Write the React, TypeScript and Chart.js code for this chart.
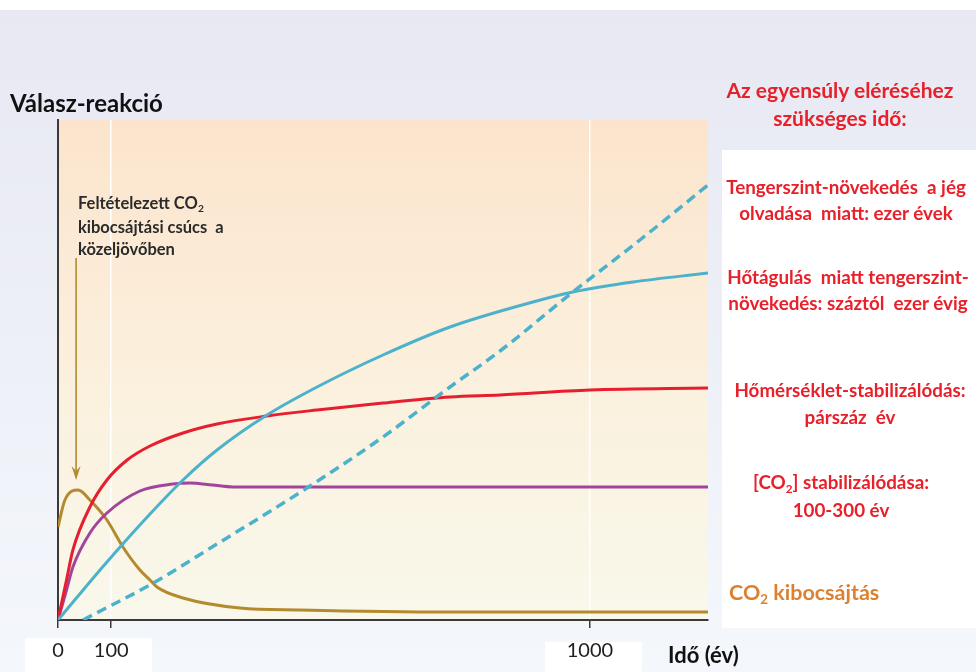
import React, { useEffect, useRef } from "react";
import { Chart, registerables } from "chart.js";

Chart.register(...registerables);

// ---- axis ----
const tickYears = [0, 100, 1000];
const xMaxYear = 1222;
const yMaxValue = 100;

// ---- series (x: years, y: response, arbitrary units 0-100) ----
const iceYears = [47, 179, 299, 468, 611, 737, 831, 968, 1094, 1222];
const iceValues = [0, 7.4, 15.2, 26.4, 36.6, 46.6, 53.8, 65.6, 76, 87];

const thermalYears = [0, 92, 173, 235, 299, 393, 487, 611, 737, 893, 968, 1081, 1222];
const thermalValues = [0, 11.6, 21.2, 28, 34, 41, 46.6, 53, 58.6, 63.6, 65.6, 67.6, 69.4];

const temperatureYears = [0, 16, 28, 60, 92, 130, 173, 235, 299, 393, 487, 611, 737, 831, 1000, 1222];
const temperatureValues = [0, 8, 14, 22.6, 28, 32, 34.8, 37.4, 39.2, 40.8, 42, 43.4, 44.6, 45, 46, 46.4];

const co2ConcYears = [0, 16, 28, 60, 92, 154, 216, 248, 290, 329, 1222];
const co2ConcValues = [0, 6, 10.6, 17.4, 21.4, 25.8, 27.2, 27.4, 27, 26.6, 26.6];

const emissionYears = [0, 13, 38, 60, 92, 122, 154, 173, 186, 235, 342, 455, 737, 1222];
const emissionValues = [18.6, 24, 26, 24, 20, 14.6, 10, 8, 6.6, 4.4, 2.4, 2, 1.6, 1.6];

// annotation arrow (peak of emissions)
const arrowYear = 34;
const arrowTopValue = 72.4;
const arrowTipValue = 28;

const TEAL = "#4cb2cb";
const RED = "#e61e2d";
const PURPLE = "#a2449b";
const GOLD = "#b38a2e";

const zip = (xs: number[], ys: number[]) => xs.map((x, i) => ({ x, y: ys[i] }));

const FONT = "Lato, 'Open Sans', 'DejaVu Sans', sans-serif";

const bgPlugin = {
  id: "bgPlugin",
  beforeDraw(chart: any) {
    const { ctx, chartArea: a, width, height } = chart;
    ctx.save();
    let g = ctx.createLinearGradient(0, 0, 0, height);
    g.addColorStop(0, "#e7e8f2");
    g.addColorStop(1, "#f4f7fc");
    ctx.fillStyle = g;
    ctx.fillRect(0, 0, width, height);
    ctx.fillStyle = "#ffffff";
    ctx.fillRect(0, 0, width, 10);
    ctx.fillRect(722, 150, width - 722, 478);
    ctx.fillRect(25, 638, 127, height - 638);
    ctx.fillRect(545, 642, 97, height - 642);
    g = ctx.createLinearGradient(0, a.top, 0, a.bottom);
    g.addColorStop(0, "#fce4cc");
    g.addColorStop(0.5, "#fbf0dd");
    g.addColorStop(1, "#f9f8eb");
    ctx.fillStyle = g;
    ctx.fillRect(a.left, a.top, a.right - a.left, a.bottom - a.top);
    ctx.restore();
  },
};

const arrowPlugin = {
  id: "arrowPlugin",
  afterDatasetsDraw(chart: any) {
    const { ctx } = chart;
    const xs = chart.scales.x;
    const ys = chart.scales.y;
    const x = xs.getPixelForValue(arrowYear);
    const y1 = ys.getPixelForValue(arrowTopValue);
    const y2 = ys.getPixelForValue(arrowTipValue);
    ctx.save();
    ctx.strokeStyle = GOLD;
    ctx.fillStyle = GOLD;
    ctx.lineWidth = 1.6;
    ctx.beginPath();
    ctx.moveTo(x, y1);
    ctx.lineTo(x, y2 - 6);
    ctx.stroke();
    ctx.beginPath();
    ctx.moveTo(x, y2);
    ctx.lineTo(x - 4.5, y2 - 14);
    ctx.lineTo(x, y2 - 9);
    ctx.lineTo(x + 4.5, y2 - 14);
    ctx.closePath();
    ctx.fill();
    ctx.restore();
  },
};

const abs = (style: React.CSSProperties): React.CSSProperties => ({
  position: "absolute",
  fontFamily: FONT,
  fontWeight: 700,
  whiteSpace: "nowrap",
  margin: 0,
  ...style,
});

const Sub = ({ children }: { children: React.ReactNode }) => (
  <span style={{ fontSize: "0.62em", position: "relative", top: "0.32em" }}>{children}</span>
);

export default function App() {
  const ref = useRef<HTMLCanvasElement | null>(null);

  useEffect(() => {
    if (!ref.current) return;
    const chart = new Chart(ref.current, {
      type: "line",
      data: {
        datasets: [
          {
            label: "Tengerszint-növekedés (jég olvadása)",
            data: zip(iceYears, iceValues),
            borderColor: TEAL,
            borderWidth: 3.5,
            borderDash: [10, 6],
          },
          {
            label: "Hőtágulás miatti tengerszint-növekedés",
            data: zip(thermalYears, thermalValues),
            borderColor: TEAL,
            borderWidth: 3,
          },
          {
            label: "Hőmérséklet",
            data: zip(temperatureYears, temperatureValues),
            borderColor: RED,
            borderWidth: 3,
          },
          {
            label: "CO2 koncentráció",
            data: zip(co2ConcYears, co2ConcValues),
            borderColor: PURPLE,
            borderWidth: 3,
          },
          {
            label: "CO2 kibocsájtás",
            data: zip(emissionYears, emissionValues),
            borderColor: GOLD,
            borderWidth: 3,
          },
        ],
      },
      options: {
        responsive: false,
        animation: false,
        layout: { padding: { left: 58, top: 120, right: 268, bottom: 0 } },
        plugins: { legend: { display: false }, tooltip: { enabled: false } },
        elements: {
          point: { radius: 0 },
          line: { cubicInterpolationMode: "monotone", borderCapStyle: "butt", fill: false },
        },
        scales: {
          x: {
            type: "linear",
            min: 0,
            max: xMaxYear,
            afterBuildTicks: (s: any) => {
              s.ticks = tickYears.map((v) => ({ value: v }));
            },
            afterFit: (s: any) => {
              s.height = 52;
            },
            grid: {
              color: (c: any) => (c.tick && c.tick.value === 0 ? "rgba(0,0,0,0)" : "#ffffff"),
              lineWidth: 1.5,
              tickColor: "#3a3a3a",
              tickLength: 8,
              tickWidth: 1.5,
              drawOnChartArea: true,
            },
            border: { display: true, color: "#3a3a3a", width: 2 },
            ticks: {
              font: { family: FONT, size: 20 },
              color: "#1e1e1e",
              padding: 11,
              maxRotation: 0,
              autoSkip: false,
              callback: (v: any) => String(v),
            },
          },
          y: {
            min: 0,
            max: yMaxValue,
            afterFit: (s: any) => {
              s.width = 0;
            },
            ticks: { display: false },
            grid: { display: false, drawTicks: false },
            border: { display: true, color: "#3a3a3a", width: 2 },
          },
        },
      } as any,
      plugins: [bgPlugin, arrowPlugin],
    });
    return () => chart.destroy();
  }, []);

  const red = "#e8202a";
  const labelSize = 18.8;

  return (
    <div style={{ position: "fixed", left: 0, top: 0, width: 976, height: 672, overflow: "hidden" }}>
      <canvas ref={ref} width={976} height={672} style={{ position: "absolute", left: 0, top: 0 }} />

      <div style={abs({ left: 10, top: 88, fontSize: 24, lineHeight: "30px", color: "#111" })}>Válasz-reakció</div>

      <div style={abs({ left: 78, top: 192, fontSize: 16.5, lineHeight: "22px", color: "#2a2a2a" })}>
        Feltételezett CO<Sub>2</Sub>
        <br />
        kibocsájtási csúcs&nbsp; a
        <br />
        közeljövőben
      </div>

      <div style={abs({ left: 700, width: 280, top: 76, fontSize: 21, lineHeight: "28px", color: red, textAlign: "center" })}>
        Az egyensúly eléréséhez
        <br />
        szükséges idő:
      </div>

      <div style={abs({ left: 706, width: 280, top: 174, fontSize: labelSize, lineHeight: "26px", color: red, textAlign: "center" })}>
        Tengerszint-növekedés&nbsp; a jég
        <br />
        olvadása&nbsp; miatt: ezer évek
      </div>

      <div style={abs({ left: 708, width: 280, top: 264, fontSize: labelSize, lineHeight: "26px", color: red, textAlign: "center" })}>
        Hőtágulás&nbsp; miatt tengerszint-
        <br />
        növekedés: száztól&nbsp; ezer évig
      </div>

      <div style={abs({ left: 710, width: 280, top: 376, fontSize: labelSize, lineHeight: "27px", color: red, textAlign: "center" })}>
        Hőmérséklet-stabilizálódás:
        <br />
        párszáz&nbsp; év
      </div>

      <div style={abs({ left: 701, width: 280, top: 469, fontSize: labelSize, lineHeight: "25px", color: red, textAlign: "center" })}>
        [CO<Sub>2</Sub>] stabilizálódása:
        <br />
        100-300 év
      </div>

      <div style={abs({ left: 729, top: 578, fontSize: 21.5, lineHeight: "28px", color: "#dd8030" })}>
        CO<Sub>2</Sub> kibocsájtás
      </div>

      <div style={abs({ left: 668, top: 641, fontSize: 22, lineHeight: "28px", color: "#111" })}>Idő (év)</div>
    </div>
  );
}
